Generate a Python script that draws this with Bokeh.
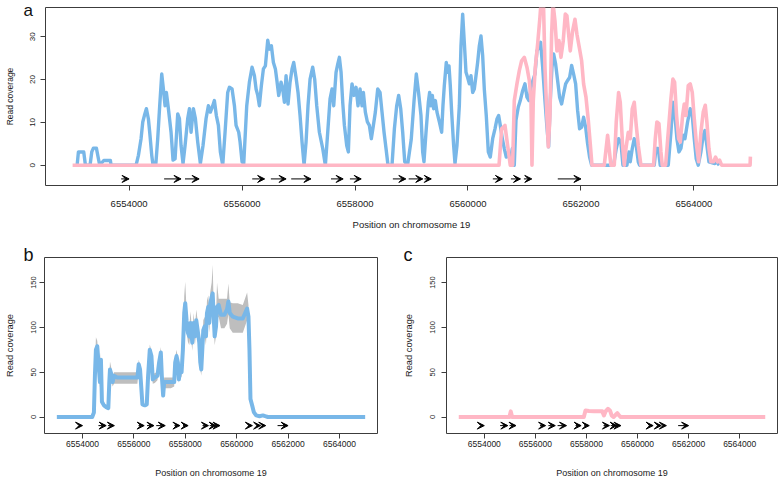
from bokeh.plotting import figure
from bokeh.layouts import column, row
from bokeh.models import (Range1d, FixedTicker, NumeralTickFormatter,
                          Arrow, VeeHead, ColumnDataSource)
from bokeh.embed import file_html
from bokeh.resources import INLINE

# ---------------- data ----------------
x_ticks = [6554000, 6556000, 6558000, 6560000, 6562000, 6564000]
a_y_ticks = [0, 10, 20, 30]
bc_y_ticks = [0, 50, 100, 150]
x_title = "Position on chromosome 19"
y_title = "Read coverage"
panel_letters = ["a", "b", "c"]

# feature arrows (start -> end, head at end)
feat_start = [6553860, 6554620, 6554990, 6556180, 6556510, 6556870, 6557575, 6557910,
              6558670, 6558950, 6559230, 6560440, 6560760, 6560990, 6561590]
feat_end = [6554000, 6554920, 6555240, 6556400, 6556780, 6557220, 6557790, 6558110,
            6558900, 6559200, 6559350, 6560610, 6560930, 6561130, 6562000]
a_feat_y = -3.2
bc_feat_y = -9.6

# panel a, blue sample
a_blue_pos = [6553080, 6553103, 6553197, 6553227, 6553309, 6553339, 6553368, 6553421, 6553457, 6553480,
              6553551, 6553669, 6553681, 6554124, 6554165, 6554212, 6554242, 6554271, 6554306, 6554342,
              6554365, 6554401, 6554424, 6554472, 6554507, 6554542, 6554578, 6554607, 6554637, 6554660,
              6554696, 6554743, 6554778, 6554814, 6554861, 6554891, 6554920, 6554955, 6554991, 6555038,
              6555068, 6555097, 6555138, 6555174, 6555215, 6555262, 6555309, 6555363, 6555404, 6555439,
              6555481, 6555510, 6555545, 6555581, 6555616, 6555658, 6555699, 6555746, 6555776, 6555823,
              6555865, 6555894, 6555941, 6555965, 6556000, 6556030, 6556083, 6556130, 6556177, 6556219,
              6556248, 6556278, 6556307, 6556342, 6556378, 6556413, 6556455, 6556484, 6556519, 6556555,
              6556590, 6556614, 6556649, 6556691, 6556720, 6556750, 6556779, 6556814, 6556850, 6556885,
              6556915, 6556956, 6556991, 6557027, 6557062, 6557098, 6557133, 6557168, 6557204, 6557251,
              6557286, 6557322, 6557369, 6557428, 6557475, 6557517, 6557558, 6557593, 6557623, 6557664,
              6557694, 6557723, 6557753, 6557782, 6557812, 6557853, 6557882, 6557912, 6557947, 6557983,
              6558018, 6558053, 6558089, 6558124, 6558148, 6558183, 6558219, 6558254, 6558289, 6558325,
              6558360, 6558402, 6558443, 6558478, 6558514, 6558549, 6558584, 6558655, 6558697, 6558738,
              6558773, 6558809, 6558844, 6558880, 6558930, 6558995, 6559045, 6559085, 6559125, 6559168,
              6559198, 6559221, 6559257, 6559298, 6559321, 6559345, 6559369, 6559392, 6559422, 6559451,
              6559493, 6559534, 6559557, 6559581, 6559616, 6559640, 6559664, 6559687, 6559711, 6559746,
              6559770, 6559805, 6559847, 6559876, 6559906, 6559935, 6559965, 6559994, 6560024, 6560053,
              6560083, 6560112, 6560142, 6560171, 6560201, 6560230, 6560260, 6560289, 6560324, 6560360,
              6560395, 6560437, 6560478, 6560513, 6560543, 6560572, 6560608, 6560643, 6560678, 6560714,
              6560749, 6560785, 6560820, 6560850, 6560891, 6560926, 6560968, 6561009, 6561044, 6561080,
              6561115, 6561150, 6561186, 6561221, 6561257, 6561286, 6561322, 6561363, 6561398, 6561428,
              6561457, 6561487, 6561516, 6561552, 6561587, 6561622, 6561658, 6561693, 6561729, 6561764,
              6561799, 6561835, 6561870, 6561906, 6561941, 6561976, 6562012, 6562047, 6562083, 6562118,
              6562153, 6562189, 6562578, 6562625, 6562667, 6562708, 6562743, 6562814, 6562850, 6562873,
              6562909, 6562944, 6562979, 6563015, 6563038, 6563298, 6563327, 6563369, 6563404, 6563546,
              6563593, 6563628, 6563664, 6563699, 6563735, 6563770, 6563806, 6563841, 6563888, 6563935,
              6563971, 6564006, 6564041, 6564077, 6564124, 6564165, 6564195, 6564230, 6564266, 6564372,
              6564407, 6564448]
a_blue_cov = [0, 3.1, 3.1, 0, 0, 3.1, 4.0, 4.0, 1.5, 0,
              1.1, 1.1, 0, 0, 2.3, 6.2, 10.1, 11.6, 13.2, 10.8,
              7.7, 2.3, 0, 0, 6.2, 13.9, 21.3, 17.8, 13.9, 17.0,
              13.2, 7.7, 1.2, 1.5, 12.0, 10.9, 4.6, 0.4, 4.6, 10.9,
              13.2, 7.7, 13.2, 10.9, 5.4, 0.4, 4.6, 10.9, 13.9, 12.4,
              13.9, 15.1, 11.6, 9.3, 3.1, 0, 7.7, 17.0, 18.2, 17.8,
              13.9, 9.3, 7.7, 5.4, 0.8, 0.4, 13.9, 19.4, 22.9, 20.9,
              17.8, 16.3, 13.9, 18.6, 22.5, 23.2, 29.2, 27.1, 27.9, 24.0,
              22.5, 20.1, 16.3, 19.4, 17.8, 14.7, 20.9, 14.3, 19.4, 22.5,
              24.0, 20.5, 17.0, 11.6, 5.4, 0, 5.4, 13.9, 20.1, 22.9,
              20.1, 13.9, 7.7, 3.9, 0, 7.7, 15.5, 17.8, 13.9, 21.7,
              23.6, 25.2, 21.7, 14.7, 9.3, 4.6, 3.1, 13.9, 19.0, 16.3,
              18.2, 13.9, 17.8, 13.9, 17.0, 12.4, 10.1, 9.3, 6.2, 9.3,
              12.4, 17.8, 17.0, 12.4, 7.7, 3.9, 0, 0, 8.5, 13.9,
              16.3, 13.2, 7.7, 0.8, 0, 6.0, 15.0, 21.3, 17.0, 11.6,
              3.1, 0.8, 7.7, 14.7, 17.0, 13.9, 16.3, 13.2, 15.1, 12.4,
              10.1, 7.7, 13.9, 18.6, 24.0, 21.7, 23.2, 18.6, 12.4, 4.6,
              0.4, 4.6, 13.9, 27.9, 35.3, 28.7, 21.7, 20.5, 19.0, 20.9,
              17.0, 17.8, 20.9, 24.0, 27.9, 30.2, 25.6, 17.8, 11.6, 3.1,
              1.9, 6.2, 8.5, 10.8, 11.6, 9.3, 6.2, 3.9, 1.9, 3.1,
              0.8, 3.9, 0, 10.5, 13.6, 15.1, 17.4, 19.0, 15.9, 15.1,
              18.2, 19.8, 21.3, 26.7, 27.5, 28.7, 22.9, 15.1, 8.9, 4.3,
              15.1, 22.9, 26.0, 23.6, 19.8, 15.9, 14.3, 16.7, 19.0, 19.8,
              20.5, 23.3, 21.3, 19.0, 12.8, 8.5, 8.9, 11.2, 8.9, 5.0,
              1.9, 0, 0, 3.9, 6.2, 5.4, 0, 0, 3.1, 0.8,
              3.9, 6.2, 4.6, 0.8, 0, 0, 3.9, 3.9, 0, 0,
              7.7, 14.7, 11.6, 6.2, 3.1, 3.9, 7.0, 6.2, 10.1, 13.2,
              11.6, 6.2, 1.5, 0, 3.1, 7.0, 8.1, 4.6, 0.8, 0.4,
              0.8, 0]

# panel a, pink sample
a_pink_pos = [6553000, 6560550, 6560596, 6560655, 6560702, 6560749, 6560790, 6560820, 6560867, 6560909,
              6560950, 6560997, 6561044, 6561086, 6561115, 6561133, 6561156, 6561192, 6561233, 6561274,
              6561304, 6561333, 6561363, 6561398, 6561422, 6561451, 6561481, 6561504, 6561540, 6561575,
              6561611, 6561646, 6561687, 6561723, 6561752, 6561782, 6561811, 6561853, 6561894, 6561929,
              6561971, 6562012, 6562047, 6562089, 6562130, 6562165, 6562195, 6562413, 6562472, 6562531,
              6562590, 6562625, 6562667, 6562696, 6562738, 6562767, 6562797, 6562838, 6562873, 6562909,
              6562944, 6562979, 6563015, 6563062, 6563286, 6563316, 6563345, 6563381, 6563416, 6563440,
              6563499, 6563546, 6563593, 6563628, 6563658, 6563693, 6563729, 6563758, 6563800, 6563829,
              6563859, 6563900, 6563935, 6563971, 6564006, 6564047, 6564083, 6564124, 6564165, 6564201,
              6564230, 6564266, 6564301, 6564348, 6564384, 6564419, 6564455, 6564490, 6564995, 6565000]
a_pink_cov = [0, 0, 8.5, 9.3, 4.6, 0, 0, 15.1, 19.0, 22.1,
              24.4, 25.2, 22.9, 19.8, 15.1, 0, 15.1, 22.9, 28.3, 34.5,
              40, 40, 22.9, 11.2, 4.3, 11.2, 30.6, 38, 33.7, 26.7,
              29.1, 25.2, 29.1, 35.3, 34.9, 30.6, 26.7, 31.4, 34.1, 30.6,
              27.5, 24.4, 19.0, 15.9, 10.5, 5.0, 0, 0, 7.0, 0,
              0, 10.1, 17.0, 14.7, 4.6, 0, 3.9, 7.7, 6.2, 13.2,
              14.7, 9.3, 4.6, 0, 0, 6.2, 10.1, 9.7, 3.1, 0,
              0, 7.7, 15.5, 20.1, 19.4, 11.6, 6.2, 5.4, 11.6, 14.3,
              11.6, 18.6, 19.0, 17.0, 10.9, 4.6, 0.8, 7.7, 12.4, 14.0,
              10.1, 3.9, 0.8, 0.8, 1.9, 0.8, 1.2, 0, 0, 2]

# panel b: mean coverage with spread
b_pos = [6553000, 6554377, 6554443, 6554482, 6554521, 6554573, 6554612, 6554677, 6554716, 6554755,
         6554833, 6554924, 6555003, 6555042, 6555068, 6555120, 6555172, 6555224, 6555354, 6555614,
         6555875, 6556135, 6556187, 6556239, 6556291, 6556331, 6556422, 6556500, 6556552, 6556617,
         6556682, 6556734, 6556812, 6556916, 6556981, 6557047, 6557086, 6557138, 6557177, 6557281,
         6557437, 6557568, 6557607, 6557659, 6557711, 6557750, 6557802, 6557855, 6557906, 6557958,
         6557997, 6558049, 6558101, 6558153, 6558205, 6558271, 6558323, 6558375, 6558427, 6558479,
         6558544, 6558583, 6558622, 6558661, 6558700, 6558752, 6558804, 6558843, 6558895, 6558934,
         6558974, 6559026, 6559065, 6559104, 6559143, 6559195, 6559234, 6559299, 6559390, 6559520,
         6559624, 6559677, 6559729, 6559846, 6560041, 6560237, 6560406, 6560458, 6560497, 6560536,
         6560601, 6560666, 6560757, 6560887, 6561017, 6561108, 6561213, 6565000]
b_mean = [0, 0, 5, 46, 75, 79, 64, 39, 64, 17,
          13, 11, 10, 39, 53, 48, 39, 46, 44, 44,
          44, 44, 59, 53, 31, 14, 13, 14, 46, 75,
          68, 42, 44, 46, 61, 72, 46, 24, 39, 39,
          39, 39, 61, 68, 61, 42, 53, 50, 75, 116,
          127, 108, 94, 90, 105, 83, 105, 90, 108, 97,
          83, 61, 53, 75, 97, 101, 90, 116, 123, 105,
          127, 134, 138, 112, 90, 101, 123, 125, 114, 114,
          120, 129, 116, 112, 110, 110, 121, 112, 75, 20,
          13, 5.5, 1.8, 0.9, 1.8, 0.9, 0, 0]
b_hi = [0, 0, 6, 52, 89, 85, 72, 45, 72, 20,
        15, 13, 12, 45, 62, 55, 45, 50, 50, 50,
        50, 50, 64, 58, 35, 15, 14, 15, 52, 81,
        74, 47, 49, 50, 67, 78, 51, 27, 44, 44,
        44, 44, 66, 75, 66, 47, 58, 55, 82, 135,
        151, 120, 104, 100, 118, 92, 116, 100, 120, 108,
        92, 68, 60, 83, 108, 112, 100, 130, 136, 117,
        140, 150, 170, 125, 100, 112, 150, 132, 132, 132,
        132, 149, 128, 127, 127, 125, 139, 125, 83, 23,
        15, 6, 2, 1, 2, 1, 0, 0]
b_lo = [0, 0, 4, 40, 65, 70, 56, 33, 55, 14,
        11, 9, 8, 34, 46, 41, 34, 37, 37, 37,
        37, 37, 52, 47, 27, 12, 12, 12, 40, 68,
        60, 37, 38, 41, 54, 64, 40, 21, 32, 32,
        32, 34, 55, 60, 55, 38, 47, 44, 68, 105,
        115, 96, 84, 80, 94, 74, 94, 80, 97, 87,
        74, 53, 46, 67, 87, 90, 80, 104, 110, 94,
        114, 120, 124, 100, 80, 90, 110, 112, 99, 99,
        104, 115, 99, 94, 94, 94, 108, 100, 67, 17,
        11, 5, 1.5, 0.8, 1.5, 0.8, 0, 0]

# panel c: pink sample
c_pos = [6553000, 6554984, 6555036, 6555089, 6557897, 6557962, 6558100, 6558300, 6558618, 6558684,
         6558749, 6558841, 6558920, 6558986, 6559060, 6559143, 6559209, 6559274, 6559340, 6565000]
c_cov = [0, 0, 6.3, 0, 0, 7.3, 6.8, 6.5, 6.3, 1.8,
         6.3, 9.2, 7.3, 1.8, 0, 2.5, 4.4, 1.8, 0, 0]

BLUE = "#78B7E8"
PINK = "#FFB7C5"
GREY = "#BEBEBE"
FRAME = "#3c3c3c"
FONT = "Liberation Sans"
X_LO, X_HI = 6552520, 6565480


def panel(width, height, y_lo, y_hi, yticks, bl, br, bt, bb, letter, letter_size, letter_off,
          letter_standoff, xtick, xtitle, ytick, ytitle, xs1, xs2, ys1, ys2):
    p = figure(width=width, height=height, output_backend="svg", toolbar_location=None,
               x_range=Range1d(X_LO, X_HI), y_range=Range1d(y_lo, y_hi),
               min_border_left=bl, min_border_right=br, min_border_top=bt, min_border_bottom=bb)
    p.background_fill_color = "white"
    p.border_fill_color = "white"
    p.outline_line_color = FRAME
    p.outline_line_width = 1
    p.grid.visible = False
    p.xaxis.ticker = FixedTicker(ticks=x_ticks)
    p.yaxis.ticker = FixedTicker(ticks=yticks)
    p.xaxis.formatter = NumeralTickFormatter(format="0")
    p.xaxis.axis_label = x_title
    p.yaxis.axis_label = y_title
    for ax in p.axis:
        ax.axis_line_color = None
        ax.major_tick_line_color = FRAME
        ax.major_tick_out = 5
        ax.major_tick_in = 0
        ax.minor_tick_line_color = None
        ax.major_label_text_font = FONT
        ax.major_label_text_color = "#1a1a1a"
        ax.axis_label_text_font = FONT
        ax.axis_label_text_font_style = "normal"
        ax.axis_label_text_color = "#1a1a1a"
    p.xaxis.major_label_text_font_size = xtick
    p.xaxis.axis_label_text_font_size = xtitle
    p.yaxis.major_label_text_font_size = ytick
    p.yaxis.axis_label_text_font_size = ytitle
    p.xaxis.major_label_standoff = xs1
    p.xaxis.axis_label_standoff = xs2
    p.yaxis.major_label_standoff = ys1
    p.yaxis.axis_label_standoff = ys2
    p.yaxis.major_label_orientation = "parallel"
    # panel letter
    p.title.text = letter
    p.title.align = "left"
    p.title.offset = letter_off
    p.title.standoff = letter_standoff
    p.title.vertical_align = "bottom"
    p.title.text_font = FONT
    p.title.text_font_size = letter_size
    p.title.text_font_style = "normal"
    p.title.text_color = "#111111"
    return p


def add_features(p, y):
    src = ColumnDataSource(dict(x0=feat_start, x1=feat_end, y=[y] * len(feat_start)))
    p.add_layout(Arrow(end=VeeHead(size=7, fill_color="black", line_color="black", line_width=1),
                       x_start="x0", y_start="y", x_end="x1", y_end="y", source=src,
                       line_color="black", line_width=1))


# panel a
pa = panel(778, 234, -4.74, 36.84, a_y_ticks, 45, 1, 7, 49, panel_letters[0], "17px", -22, -25,
           "9.5px", "9.5px", "8px", "8.5px", 10, 9, 5, 13)
pa.line(a_blue_pos, a_blue_cov, line_color=BLUE, line_width=3.4, line_join="round")
pa.line(a_pink_pos, a_pink_cov, line_color=PINK, line_width=3.6, line_join="round")
add_features(pa, a_feat_y)

# panel b
pb = panel(389, 246, -18.4, 178, bc_y_ticks, 44, 12, 23, 45, panel_letters[1], "18px", -21, -14,
           "8.5px", "9px", "7.5px", "9.3px", 2, 18, 3, 14)
pb.varea(x=b_pos, y1=b_lo, y2=b_hi, fill_color=GREY)
pb.line(b_pos, b_mean, line_color=BLUE, line_width=4, line_join="round")
add_features(pb, bc_feat_y)

# panel c
pc = panel(389, 246, -18.4, 178, bc_y_ticks, 57, 1, 23, 45, panel_letters[2], "18px", -43, -14,
           "8.5px", "9px", "7.5px", "9.3px", 2, 18, 6, 14)
pc.line(c_pos, c_cov, line_color=PINK, line_width=4, line_join="round")
add_features(pc, bc_feat_y)

layout = column(pa, row(pb, pc))
open("out.html", "w").write(file_html(layout, INLINE))
